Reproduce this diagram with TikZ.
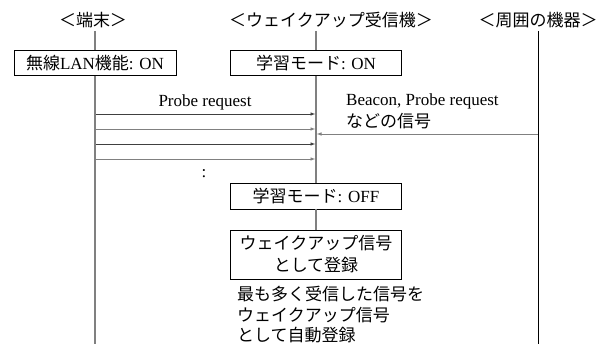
\documentclass[tikz,border=0pt]{standalone}
\usepackage{fontspec}
\setmainfont{Liberation Serif}
\newfontfamily\jp{Noto Sans CJK JP}
\usetikzlibrary{arrows.meta}
\begin{document}
\begin{tikzpicture}[x=1pt,y=-1pt,
  every node/.style={font=\fontsize{17}{22}\selectfont, inner sep=0pt},
  lbox/.style={draw=black, line width=0.9pt, fill=white, minimum width=171pt, minimum height=25pt, align=center},
  life/.style={draw=gray, line width=1.6pt},
  lifek/.style={draw=black, line width=1pt},
  msg/.style={draw=black!75, line width=0.8pt, -{Latex[length=5pt,width=3.5pt]}},
  msgg/.style={draw=gray, line width=0.8pt, -{Latex[length=5pt,width=3.5pt]}}]
\useasboundingbox (0,0) rectangle (611,344);
% headers
\node (h1) at (93,20) {\jp ＜端末＞};
\node (h2) at (331,20) {\jp ＜ウェイクアップ受信機＞};
\node (h3) at (538,20) {\jp ＜周囲の機器＞};
% coordinates of lifeline ends
\coordinate (l1t) at (95,31);
\coordinate (l1b) at (95,344);
\coordinate (l2t) at (316,31);
\coordinate (l3t) at (538,31);
\coordinate (l3b) at (538,344);
% boxes
\node[lbox, minimum width=162pt] (b1) at (95,63) {{\jp 無線}LAN{\jp 機能}: ON};
\node[lbox] (b2) at (316,63) {{\jp 学習モード}: ON};
\node[lbox, minimum height=26pt] (b3) at (316,196) {{\jp 学習モード}: OFF};
\node[lbox, minimum height=49pt] (b4) at (316,254.5) {\jp ウェイクアップ信号\\\jp として登録};
% lifelines
\draw[life] (l1t) -- (b1.north);
\draw[life] (b1.south) -- (l1b);
\draw[life] (l2t) -- (b2.north);
\draw[life] (b2.south) -- (b3.north);
\draw[life] (b3.south) -- (b4.north);
\draw[lifek] (l3t) -- (l3b);
% messages
\foreach \i/\y in {1/114,2/129,3/144,4/159}{
  \coordinate (m\i s) at (96,\y);
  \coordinate (m\i e) at (315.5,\y);
}
\draw[msg] (m1s) -- (m1e);
\draw[msgg] (m2s) -- (m2e);
\draw[msg] (m3s) -- (m3e);
\draw[msgg] (m4s) -- (m4e);
\coordinate (bs) at (537.5,134);
\coordinate (be) at (316.5,134);
\draw[msgg] (bs) -- (be);
% labels
\node (pr) at (205,102) {Probe request};
\node[anchor=west, align=left] (bc) at (346,111) {Beacon, Probe request\\\jp などの信号};
\node (dots) at (204,174) {:};
\node[anchor=south west, align=left, font=\fontsize{17}{20.5}\selectfont] (ann) at (237,343.5) {\jp 最も多く受信した信号を\\\jp ウェイクアップ信号\\\jp として自動登録};
\end{tikzpicture}
\end{document}
